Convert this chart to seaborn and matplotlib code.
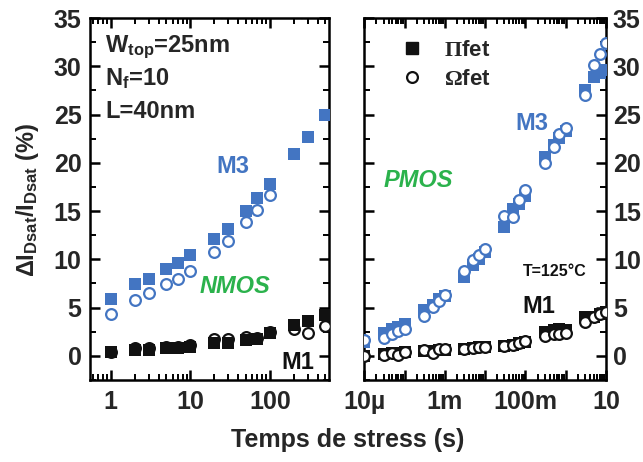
import matplotlib
matplotlib.use("Agg")
import matplotlib.pyplot as plt
import seaborn as sns
import numpy as np
import pandas as pd
from matplotlib.ticker import MultipleLocator, LogLocator, FuncFormatter, NullFormatter
from matplotlib.lines import Line2D

# ---------------- data ----------------
# NMOS (left panel)
t_nmos = [1, 2, 3, 5, 7, 10, 20, 30, 50, 70, 100, 200, 300, 500]
nmos_m3_pi = [5.9, 7.45, 8.0, 9.0, 9.6, 10.45, 12.1, 13.1, 15.0, 16.4, 17.8, 20.9, 22.7, 25.0]
t_nmos_m3_omega = [1, 2, 3, 5, 7, 10, 20, 30, 50, 70, 100]
nmos_m3_omega = [4.35, 5.8, 6.55, 7.4, 8.0, 8.8, 10.8, 11.9, 13.9, 15.1, 16.65]
nmos_m1_pi = [0.45, 0.6, 0.6, 0.8, 0.8, 0.95, 1.3, 1.3, 1.65, 1.75, 2.35, 3.2, 3.65, 4.25]
nmos_m1_omega = [0.45, 0.8, 0.8, 0.9, 0.9, 1.15, 1.75, 1.75, 1.95, 1.9, 2.45, 2.75, 2.35, 3.05]

# PMOS (right panel)
t_pmos = [1e-5, 3e-5, 5e-5, 7e-5, 1e-4, 3e-4, 5e-4, 7e-4, 1e-3,
          3e-3, 5e-3, 7e-3, 1e-2, 3e-2, 5e-2, 7e-2, 1e-1,
          0.3, 0.5, 0.7, 1, 3, 5, 7, 10]
pmos_m3_pi = [1.4, 2.4, 2.8, 3.0, 3.3, 4.8, 5.3, 5.9, 6.2,
              8.2, 9.4, 10.0, 10.8, 13.3, 15.2, 15.7, 16.6,
              20.6, 21.8, 22.6, 23.3, 27.5, 28.9, 29.3, 29.6]
pmos_m3_omega = [1.65, 1.8, 2.3, 2.55, 2.8, 4.15, 5.05, 5.65, 6.3,
                 8.8, 9.9, 10.4, 11.1, 14.5, 14.4, 16.1, 17.2,
                 20.0, 21.6, 23.0, 23.6, 27.0, 30.1, 31.3, 32.4]
pmos_m1_pi = [0.0, 0.2, 0.25, 0.3, 0.35, 0.5, 0.55, 0.6, 0.65,
              0.75, 0.8, 0.9, 0.95, 1.0, 1.1, 1.3, 1.4,
              2.5, 2.7, 2.8, 2.7, 4.0, 4.0, 4.3, 4.5]
pmos_m1_omega = [0.0, 0.1, 0.28, 0.1, 0.45, 0.6, 0.3, 0.7, 0.7,
                 0.7, 0.8, 0.95, 0.95, 1.0, 1.15, 1.35, 1.5,
                 2.1, 2.25, 2.3, 2.4, 3.5, 4.05, 4.35, 4.5]

left_xticks = [1, 10, 100]
right_tick_labels = {1e-5: "10µ", 1e-3: "1m", 1e-1: "100m", 10: "10"}

BLUE = "#4375c2"
GREEN = "#2bb24c"
BLACK = "#111111"

# ---------------- style ----------------
sns.set_style("ticks")
plt.rcParams["font.family"] = ["Liberation Sans", "DejaVu Sans"]
plt.rcParams["font.weight"] = "bold"
plt.rcParams["mathtext.fontset"] = "custom"
plt.rcParams["mathtext.rm"] = "Liberation Sans:bold"
plt.rcParams["mathtext.bf"] = "Liberation Sans:bold"
plt.rcParams["mathtext.it"] = "Liberation Sans:bold:italic"
plt.rcParams["mathtext.sf"] = "Liberation Serif"
plt.rcParams["mathtext.default"] = "rm"

W, H = 643, 462
fig = plt.figure(figsize=(W / 100, H / 100), dpi=100)
ax1 = fig.add_axes([90 / W, 82 / H, 239 / W, 362 / H])
ax2 = fig.add_axes([364.3 / W, 82 / H, 241.7 / W, 362 / H])

SQ = dict(marker="s", s=75, linewidth=0)
CI = dict(marker="o", s=60, linewidth=1.6)

# left panel
df_l3o = pd.DataFrame({"t": t_nmos_m3_omega, "v": nmos_m3_omega})
df_l3p = pd.DataFrame({"t": t_nmos, "v": nmos_m3_pi})
df_l1o = pd.DataFrame({"t": t_nmos, "v": nmos_m1_omega})
df_l1p = pd.DataFrame({"t": t_nmos, "v": nmos_m1_pi})
sns.scatterplot(data=df_l3p, x="t", y="v", ax=ax1, color=BLUE, edgecolor=BLUE, zorder=3, **SQ)
sns.scatterplot(data=df_l3o, x="t", y="v", ax=ax1, facecolor="white", edgecolor=BLUE, zorder=3, **CI)
sns.scatterplot(data=df_l1o, x="t", y="v", ax=ax1, facecolor="white", edgecolor=BLACK, zorder=3, **CI)
sns.scatterplot(data=df_l1p, x="t", y="v", ax=ax1, color=BLACK, edgecolor=BLACK, zorder=4, **SQ)

# right panel
df_r3p = pd.DataFrame({"t": t_pmos, "v": pmos_m3_pi})
df_r3o = pd.DataFrame({"t": t_pmos, "v": pmos_m3_omega})
df_r1p = pd.DataFrame({"t": t_pmos, "v": pmos_m1_pi})
df_r1o = pd.DataFrame({"t": t_pmos, "v": pmos_m1_omega})
sns.scatterplot(data=df_r1p, x="t", y="v", ax=ax2, color=BLACK, edgecolor=BLACK, zorder=3, **SQ)
sns.scatterplot(data=df_r1o, x="t", y="v", ax=ax2, facecolor="white", edgecolor=BLACK, zorder=4, **CI)
sns.scatterplot(data=df_r3p, x="t", y="v", ax=ax2, color=BLUE, edgecolor=BLUE, zorder=3, **SQ)
sns.scatterplot(data=df_r3o, x="t", y="v", ax=ax2, facecolor="white", edgecolor=BLUE, zorder=4, **CI)

for ax in (ax1, ax2):
    ax.set_xscale("log")
    ax.set_ylim(-2.5, 35)
    ax.yaxis.set_major_locator(MultipleLocator(5))
    ax.yaxis.set_minor_locator(MultipleLocator(2.5))
    ax.set_xlabel("")
    ax.set_ylabel("")
    for sp in ax.spines.values():
        sp.set_visible(True)
        sp.set_linewidth(1.8)
        sp.set_color("black")
    ax.tick_params(which="both", direction="in", top=True, bottom=True,
                   left=True, right=True, color="black", labelsize=18)
    ax.tick_params(which="major", length=7, width=1.8)
    ax.tick_params(which="minor", length=4, width=1.4)
    ax.tick_params(axis="x", pad=7)
    ax.xaxis.set_minor_locator(LogLocator(base=10, subs=np.arange(2, 10), numticks=50))
    ax.xaxis.set_minor_formatter(NullFormatter())
    if ax.get_legend() is not None:
        ax.get_legend().remove()

ax1.set_xlim(0.55, 555)
ax1.set_xticks(left_xticks)
ax1.xaxis.set_major_formatter(FuncFormatter(lambda v, p: f"{v:g}"))
ax1.tick_params(axis="y", pad=6)

ax2.set_xlim(1e-5, 10)
ax2.xaxis.set_major_locator(LogLocator(base=10, numticks=50))
ax2.xaxis.set_major_formatter(FuncFormatter(
    lambda v, p: next((lab for k, lab in right_tick_labels.items() if abs(np.log10(v) - np.log10(k)) < 1e-6), "")))
ax2.tick_params(axis="y", labelleft=False, labelright=True, pad=5)

for lab in ax1.get_xticklabels() + ax1.get_yticklabels() + ax2.get_xticklabels() + ax2.get_yticklabels():
    lab.set_fontweight("bold")

# annotations left
ax1.text(0.063, 0.907, "W$_{top}$=25nm", transform=ax1.transAxes, fontsize=17, fontweight="bold", va="baseline")
ax1.text(0.063, 0.815, "N$_{f}$=10", transform=ax1.transAxes, fontsize=17, fontweight="bold", va="baseline")
ax1.text(0.063, 0.723, "L=40nm", transform=ax1.transAxes, fontsize=17, fontweight="bold", va="baseline")
ax1.text(0.530, 0.573, "M3", transform=ax1.transAxes, fontsize=17, fontweight="bold", color=BLUE, va="baseline")
ax1.text(0.46, 0.241, "NMOS", transform=ax1.transAxes, fontsize=17, fontweight="bold", fontstyle="italic", color=GREEN, va="baseline")
ax1.text(0.802, 0.03, "M1", transform=ax1.transAxes, fontsize=17, fontweight="bold", color=BLACK, va="baseline")

# annotations right
ax2.text(0.079, 0.532, "PMOS", transform=ax2.transAxes, fontsize=17, fontweight="bold", fontstyle="italic", color=GREEN, va="baseline")
ax2.text(0.623, 0.691, "M3", transform=ax2.transAxes, fontsize=17, fontweight="bold", color=BLUE, va="baseline")
ax2.text(0.655, 0.287, "T=125°C", transform=ax2.transAxes, fontsize=11.5, fontweight="bold", color=BLACK, va="baseline")
ax2.text(0.655, 0.184, "M1", transform=ax2.transAxes, fontsize=17, fontweight="bold", color=BLACK, va="baseline")

handles = [Line2D([], [], marker="s", color=BLACK, linestyle="none", markersize=8.6),
           Line2D([], [], marker="o", markerfacecolor="white", markeredgecolor=BLACK,
                  markeredgewidth=1.6, linestyle="none", markersize=7.8)]
ax2.legend(handles, [r"$\mathsf{\Pi}$fet", r"$\mathsf{\Omega}$fet"], loc="upper left",
           bbox_to_anchor=(0.150, 0.94), frameon=False, fontsize=16, handlelength=1.0,
           handletextpad=0.95, labelspacing=0.38, borderpad=0, borderaxespad=0)

fig.text(28 / W, 1 - 200 / H, r"$\Delta$I$_{Dsat}$/I$_{Dsat}$ (%)", rotation=90,
         fontsize=17, fontweight="bold", ha="center", va="center")
fig.text(348 / W, 1 - 440 / H, "Temps de stress (s)", fontsize=18, fontweight="bold",
         ha="center", va="center")

fig.savefig("out.png", dpi=100)
